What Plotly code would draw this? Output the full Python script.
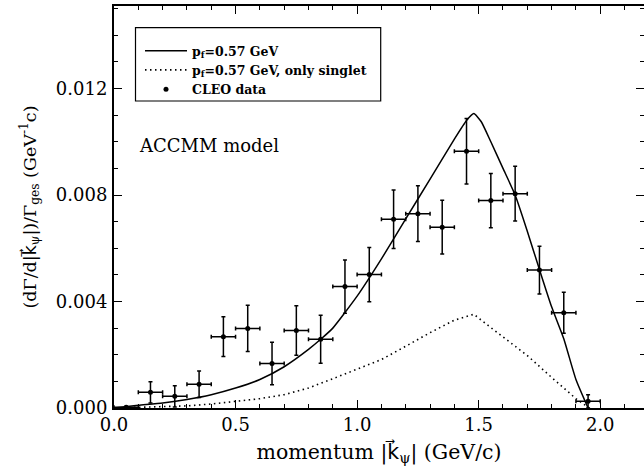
import plotly.graph_objects as go

# CLEO data
data_x = [0.05, 0.15, 0.25, 0.35, 0.45, 0.55, 0.65, 0.75, 0.85, 0.95, 1.05,
          1.15, 1.25, 1.35, 1.45, 1.55, 1.65, 1.75, 1.85, 1.95]
data_y = [0.00003, 0.00059, 0.00044, 0.00089, 0.00268, 0.00299, 0.00167, 0.00291,
          0.00258, 0.00456, 0.00501, 0.00709, 0.00730, 0.00679, 0.00964, 0.00779,
          0.00805, 0.00518, 0.00358, 0.00025]
data_err = [0.00003, 0.00040, 0.00040, 0.00050, 0.00075, 0.00087, 0.00080, 0.00093,
            0.00090, 0.00100, 0.00102, 0.00110, 0.00105, 0.00101, 0.00123, 0.00102,
            0.00103, 0.00090, 0.00077, 0.00025]
data_xerr = [0.05] * len(data_x)

# Model curve (full)
full_x = [0.0, 0.1, 0.2, 0.3, 0.4, 0.5, 0.6, 0.7, 0.8, 0.85, 0.9, 1.0, 1.1, 1.2, 1.3,
          1.4, 1.45, 1.48, 1.51, 1.55, 1.6, 1.65, 1.7, 1.75, 1.8, 1.85, 1.9, 1.95]
full_y = [0.0, 0.0001, 0.00019, 0.00032, 0.00050, 0.00075, 0.00107, 0.00155, 0.00220,
          0.00258, 0.0030, 0.0042, 0.0056, 0.0071, 0.0086, 0.0101, 0.01080, 0.01106,
          0.01076, 0.0100, 0.0090, 0.0080, 0.00664, 0.0052, 0.0038, 0.0026, 0.00107, 0.0]

# Model curve (only singlet)
sing_x = [0.0, 0.2, 0.3, 0.4, 0.5, 0.6, 0.7, 0.8, 0.9, 1.0, 1.1, 1.2, 1.3, 1.4,
          1.48, 1.55, 1.6, 1.7, 1.8, 1.9, 1.955]
sing_y = [0.0, 0.00004, 0.00008, 0.00015, 0.00024, 0.00035, 0.00050, 0.00075, 0.0011,
          0.00145, 0.00182, 0.00232, 0.00283, 0.0033, 0.00352, 0.00302, 0.00268,
          0.00197, 0.00115, 0.00035, 0.0]

x_ticks = [0.0, 0.5, 1.0, 1.5, 2.0]
y_ticks = [0.000, 0.004, 0.008, 0.012]

FONT = "DejaVu Serif"
KVEC = "<span style='font-family:DejaVu Sans'>k\u20d7</span>"

fig = go.Figure()
fig.add_trace(go.Scatter(x=full_x, y=full_y, mode="lines",
                         line=dict(color="black", width=1.5, shape="spline", smoothing=0.5),
                         name="p<sub>f</sub>=0.57 GeV"))
fig.add_trace(go.Scatter(x=sing_x, y=sing_y, mode="lines",
                         line=dict(color="black", width=1.6, dash="1.5px,3.5px"),
                         name="p<sub>f</sub>=0.57 GeV, only singlet"))
fig.add_trace(go.Scatter(x=data_x, y=data_y, mode="markers",
                         marker=dict(color="black", size=5),
                         error_y=dict(type="data", array=data_err, color="black",
                                      thickness=1.5, width=2),
                         error_x=dict(type="data", array=data_xerr, color="black",
                                      thickness=1.5, width=2),
                         name="CLEO data"))

fig.add_annotation(x=0.095, y=0.00985, xref="x", yref="y", text="ACCMM model",
                   showarrow=False, xanchor="left", yanchor="middle",
                   font=dict(family=FONT, size=18, color="black"))

# legend frame
fig.add_shape(type="rect", xref="paper", yref="paper",
              x0=(135.5 - 114) / 530, x1=(380.7 - 114) / 530,
              y0=(408 - 101) / 402, y1=(408 - 27.7) / 402,
              line=dict(color="black", width=1.2), fillcolor="white", layer="below")

axis_common = dict(showline=True, linecolor="black", linewidth=2, mirror="ticks",
                   ticks="inside", ticklen=8, tickwidth=1.2, tickcolor="black",
                   showgrid=False, zeroline=False, automargin=False,
                   tickfont=dict(family=FONT, size=18, color="black"))

fig.update_xaxes(range=[0, 2.18], tickvals=x_ticks, tickformat=".1f",
                 ticklabelstandoff=-1,
                 minor=dict(dtick=0.1, ticks="inside", ticklen=4, tickcolor="black",
                            tickwidth=1),
                 title=dict(text="momentum |" + KVEC + "<sub>\u03c8</sub>| (GeV/c)",
                            font=dict(family=FONT, size=20.5, color="black"),
                            standoff=11),
                 **axis_common)
fig.update_yaxes(range=[0, 0.0151], tickvals=y_ticks, tickformat=".3f",
                 ticklabelstandoff=1,
                 minor=dict(dtick=0.001, ticks="inside", ticklen=4, tickcolor="black",
                            tickwidth=1),
                 title=dict(text="(d\u0393/d|" + KVEC + "<sub>\u03c8</sub>|)/\u0393<sub>ges</sub> (GeV<sup>-1</sup>c)",
                            font=dict(family=FONT, size=17.5, color="black"),
                            standoff=15),
                 **axis_common)

fig.update_layout(width=644, height=472,
                  margin=dict(l=114, r=0, t=6, b=64),
                  paper_bgcolor="white", plot_bgcolor="white",
                  showlegend=True,
                  legend=dict(x=(140 - 114) / 530, y=(408 - 36) / 402,
                              xanchor="left", yanchor="top",
                              bgcolor="rgba(0,0,0,0)", borderwidth=0,
                              font=dict(family=FONT, size=12.5, color="black",
                                        weight="bold"),
                              tracegroupgap=0, itemwidth=42))

fig.write_html("out.html", config={"displayModeBar": False},
               post_script="document.body.style.margin='0';document.body.style.overflow='hidden';")
